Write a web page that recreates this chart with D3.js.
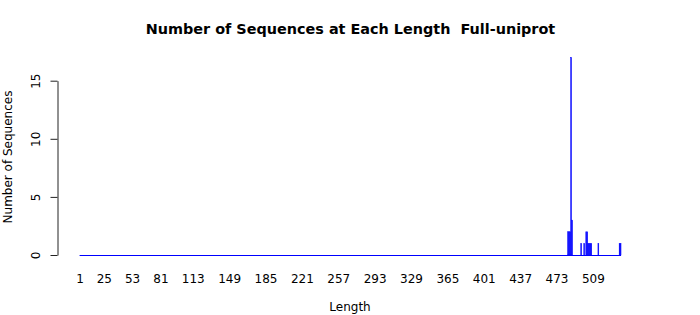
<!DOCTYPE html>
<html>
<head>
<meta charset="utf-8">
<script src="https://cdn.jsdelivr.net/npm/d3@7"></script>
<style>
  body { margin: 0; background: white; }
  svg text { font-family: "DejaVu Sans", sans-serif; fill: black; }
</style>
</head>
<body>
<div id="chart"></div>
<script>
/* CONSTANTS AND GLOBALS */
const width = 700;
const height = 315;

// DATA: lengths 1..536, most have no sequences
const minLength = 1;
const maxLength = 536;
const nonZeroLengths = [484, 485, 486, 487, 488, 497, 500, 502, 503, 504, 505, 506, 507, 514, 535, 536];
const nonZeroCounts  = [2,   2,   2,   17,  3,   1,   1,   2,   2,   1,   1,   1,   1,   1,   1,   1];
const xTickLabels = [1, 25, 53, 81, 113, 149, 185, 221, 257, 293, 329, 365, 401, 437, 473, 509];
const yTickValues = [0, 5, 10, 15];

const lengths = d3.range(minLength, maxLength + 1);
const countByLength = new Map(nonZeroLengths.map((l, i) => [l, nonZeroCounts[i]]));
const dataset = lengths.map(l => ({ length: l, count: countByLength.get(l) || 0 }));

const svg = d3.select("#chart")
  .append("svg")
  .attr("width", width)
  .attr("height", height);

/* SCALES */
const xScale = d3.scaleBand()
  .domain(lengths)
  .range([79.5, 621.1])
  .paddingInner(0.1667)
  .paddingOuter(0.0833);

const yScale = d3.scaleLinear()
  .domain([0, 15])
  .range([255, 80.7]);

/* BARS */
svg.selectAll(".bars")
  .data(dataset.filter(d => d.count > 0))
  .join("rect")
  .attr("class", "bars")
  .attr("x", d => xScale(d.length))
  .attr("y", d => yScale(d.count))
  .attr("width", xScale.bandwidth())
  .attr("height", d => yScale(0) - yScale(d.count))
  .attr("fill", "blue")
  .attr("stroke", "blue")
  .attr("stroke-width", 0.5);

// zero-height bars show as a baseline
svg.append("line")
  .attr("x1", xScale(minLength))
  .attr("x2", xScale(maxLength) + xScale.bandwidth())
  .attr("y1", yScale(0) + 0.5)
  .attr("y2", yScale(0) + 0.5)
  .attr("stroke", "blue")
  .attr("stroke-width", 1);

/* AXES */
const yAxis = d3.axisLeft(yScale)
  .tickValues(yTickValues)
  .tickSize(7)
  .tickSizeOuter(0)
  .tickPadding(0);

const yAxisG = svg.append("g")
  .attr("transform", "translate(57.5,0)")
  .call(yAxis);
yAxisG.select(".domain").attr("stroke", "#222");
yAxisG.selectAll(".tick line").attr("stroke", "#222");
yAxisG.selectAll(".tick text")
  .attr("x", null).attr("dy", null)
  .attr("text-anchor", "middle")
  .attr("transform", "translate(-18,0) rotate(-90)")
  .style("font-size", "12px");

const xAxis = d3.axisBottom(xScale)
  .tickValues(xTickLabels)
  .tickSize(0)
  .tickPadding(0);

const xAxisG = svg.append("g")
  .call(xAxis);
xAxisG.select(".domain").remove();
xAxisG.selectAll(".tick text")
  .attr("y", 283)
  .attr("dy", null)
  .style("font-size", "12px");

/* LABELS */
svg.append("text")
  .attr("x", 350.5)
  .attr("y", 34)
  .attr("text-anchor", "middle")
  .style("font-size", "14.4px")
  .style("font-weight", "bold")
  .style("white-space", "pre")
  .text("Number of Sequences at Each Length  Full-uniprot");

svg.append("text")
  .attr("x", 350)
  .attr("y", 311)
  .attr("text-anchor", "middle")
  .style("font-size", "12px")
  .text("Length");

svg.append("text")
  .attr("transform", "translate(12,157) rotate(-90)")
  .attr("text-anchor", "middle")
  .style("font-size", "12px")
  .text("Number of Sequences");
</script>
</body>
</html>
